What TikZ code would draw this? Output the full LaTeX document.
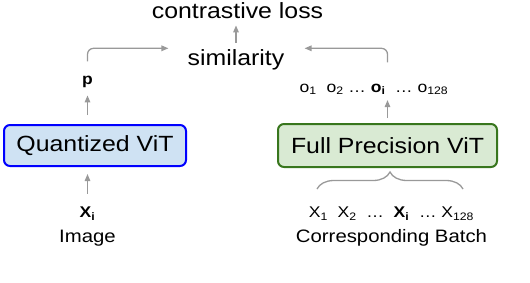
\documentclass[tikz,border=0pt]{standalone}
\usepackage{fontspec}
\setmainfont{Liberation Sans}[FakeStretch=1.13]
\usetikzlibrary{arrows.meta, positioning, decorations.pathreplacing}

\definecolor{qfill}{HTML}{CFE2F3}
\definecolor{qline}{HTML}{0000FF}
\definecolor{ffill}{HTML}{D9EAD3}
\definecolor{fline}{HTML}{38761D}
\definecolor{arrgray}{HTML}{999999}

\begin{document}
\begin{tikzpicture}[
    x=1pt, y=-1pt,
    bigtext/.style={inner sep=0pt, font=\fontsize{22}{26}\selectfont},
    midtext/.style={inner sep=0pt, font=\fontsize{18}{22}\selectfont},
    vectext/.style={inner sep=0pt, font=\fontsize{15.5}{18}\selectfont},
    qbox/.style={draw=qline, fill=qfill, line width=2pt, rounded corners=6pt, minimum width=182pt, minimum height=41pt, inner sep=0pt, font=\fontsize{22}{26}\selectfont},
    fpbox/.style={draw=fline, fill=ffill, line width=2pt, rounded corners=6pt, minimum width=219pt, minimum height=43pt, inner sep=0pt, font=\fontsize{22}{26}\selectfont},
    arrow/.style={-{Triangle[length=7pt, width=5.5pt]}, draw=arrgray, line width=1.3pt},
    brc/.style={decorate, decoration={brace, amplitude=17pt}, draw=arrgray, line width=1.3pt}
]
\useasboundingbox (0,0) rectangle (530,282);

\node[qbox] (qvit) at (95,145.5) {Quantized ViT};
\node[fpbox] (fvit) at (387.5,145.5) {Full Precision ViT};

\node[bigtext, anchor=base] (sim) at (236,65) {similarity};
\node[bigtext, anchor=base] (loss) at (237.5,18) {contrastive loss};

\node[vectext, anchor=base] (p) at (87.5,84) {\textbf{p}};
\node[vectext, anchor=base] (olist) at (374,92) {o\textsubscript{1}\ \ o\textsubscript{2} \dots\ \textbf{o\textsubscript{i}}\ \ \dots\ o\textsubscript{128}};

\node[vectext, anchor=base] (xi) at (87.5,217.5) {\textbf{X\textsubscript{i}}};
\node[midtext, anchor=base] (img) at (87.5,242) {Image};
\node[vectext, anchor=base] (xlist) at (391.5,217.5) {X\textsubscript{1}\ \ X\textsubscript{2}\ \ \dots\ \ \textbf{X\textsubscript{i}}\ \ \dots\ X\textsubscript{128}};
\node[midtext, anchor=base] (batch) at (391.5,242.5) {Corresponding Batch};

% brace over the batch
\coordinate (bl) at (317,189);
\coordinate (br) at (463,189);
\draw[brc] (bl) -- (br);

% Arrows
\draw[arrow, shorten <=6pt, shorten >=7pt] (sim.north) -- (sim.north |- loss.south);
\draw[arrow, shorten <=9pt, shorten >=8pt] (p.south |- qvit.north) -- (p.south);
\draw[arrow, rounded corners=6pt, shorten <=14pt, shorten >=19pt] (p.north) |- ([yshift=11pt]sim.west);
\draw[arrow, shorten <=5pt, shorten >=5pt] (fvit.north) -- (fvit.north |- olist.south);
\draw[arrow, rounded corners=6pt, shorten <=21pt, shorten >=20pt] (fvit.north |- olist.north) |- ([yshift=11pt]sim.east);
\draw[arrow, shorten <=13pt, shorten >=7pt] (xi.north) -- (xi.north |- qvit.south);

\end{tikzpicture}
\end{document}
